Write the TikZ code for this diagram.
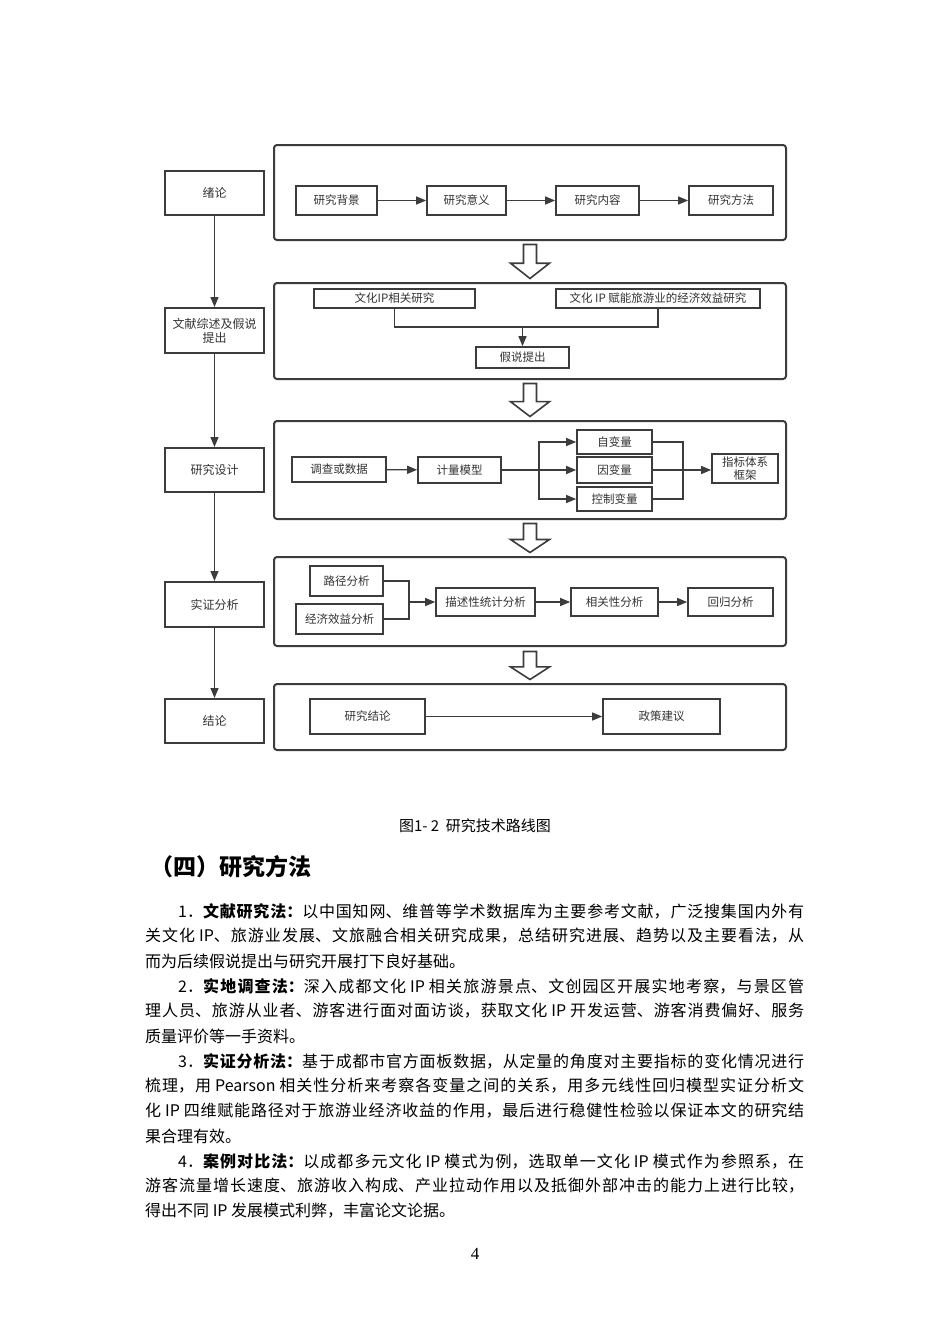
\documentclass[tikz,border=0pt]{standalone}
\usepackage{fontspec}
\setmainfont{Noto Sans CJK SC}
\newfontfamily\numfont{Liberation Serif}
\usetikzlibrary{arrows.meta,calc}
\XeTeXlinebreaklocale "zh"
\XeTeXlinebreakskip=0pt plus 5pt
\definecolor{linegray}{HTML}{3C3C3C}
\definecolor{textgray}{HTML}{333333}
\newcommand\jline[1]{\leftskip=0pt\rightskip=0pt\parfillskip=0pt\relax\noindent#1\par}
\newcommand\fatarrow[2]{%
  \path (#1) coordinate (fa-t) (#2) coordinate (fa-b) ($(#1)!0.55!(#2)$) coordinate (fa-m);
  \draw[fat] ($(fa-t)+(-6.5,0)$) -- ($(fa-t)+(6.5,0)$) -- ($(fa-m)+(6.5,0)$) -- ($(fa-m)+(19.5,0)$)
    -- (fa-b) -- ($(fa-m)+(-19.5,0)$) -- ($(fa-m)+(-6.5,0)$) -- cycle;}
\tikzset{
  outer/.style={draw=linegray,line width=2pt,rounded corners=3pt,minimum width=512pt,inner sep=0pt},
  stepbox/.style={draw=linegray,line width=1.7pt,text=textgray,font=\fontsize{11.5}{13}\selectfont,inner sep=0pt,align=center},
  sidebox/.style={stepbox,line width=2pt,minimum width=99pt,minimum height=44pt,font=\fontsize{12}{14}\selectfont},
  arr/.style={draw=linegray,line width=1.3pt,-{Triangle[length=10pt,width=8pt]}},
  link/.style={draw=linegray,line width=1.3pt},
  fat/.style={draw=linegray,line width=1.6pt,fill=white,line join=miter},
  bodyline/.style={anchor=west,inner sep=0pt,text width=659pt,align=justify,font=\fontsize{16}{20}\selectfont},
  lastline/.style={anchor=west,inner sep=0pt,font=\fontsize{16}{20}\selectfont},
}
\begin{document}
\begin{tikzpicture}[x=1pt,y=-1pt]
  \fill[white] (0,0) rectangle (950,1344);
  \useasboundingbox (0,0) rectangle (950,1344);
  % left column
  \node[sidebox] (xl) at (214.5,193) {绪论};
  \node[sidebox,minimum height=45pt] (ws) at (214.5,330.5) {文献综述及假说\\提出};
  \node[sidebox] (yj) at (214.5,470) {研究设计};
  \node[sidebox,minimum height=45pt] (sz) at (214.5,604.5) {实证分析};
  \node[sidebox] (jl) at (214.5,721) {结论};
  \draw[arr] (xl) -- (ws);
  \draw[arr] (ws) -- (yj);
  \draw[arr] (yj) -- (sz);
  \draw[arr] (sz) -- (jl);
  % outer frames
  \node[outer,minimum height=95pt] (b1) at (530,192.5) {};
  \node[outer,minimum height=96pt] (b2) at (530,331) {};
  \node[outer,minimum height=98pt] (b3) at (530,470) {};
  \node[outer,minimum height=89pt] (b4) at (530,601.5) {};
  \node[outer,minimum height=66pt] (b5) at (530,717) {};
  \fatarrow{$(b1.south)+(0,3.5)$}{$(b2.north)+(0,-3.5)$}
  \fatarrow{$(b2.south)+(0,3.5)$}{$(b3.north)+(0,-3.5)$}
  \fatarrow{$(b3.south)+(0,3.5)$}{$(b4.north)+(0,-3.5)$}
  \fatarrow{$(b4.south)+(0,4.5)$}{$(b5.north)+(0,-3.5)$}
  % frame 1
  \node[stepbox,minimum width=81pt,minimum height=29pt] (bg) at (336.5,200.5) {研究背景};
  \node[stepbox,minimum width=79pt,minimum height=29pt] (yy) at (466.5,200.5) {研究意义};
  \node[stepbox,minimum width=83pt,minimum height=29pt] (nr) at (597.5,200.5) {研究内容};
  \node[stepbox,minimum width=84pt,minimum height=29pt] (ff) at (731,200.5) {研究方法};
  \draw[arr] (bg) -- (yy);
  \draw[arr] (yy) -- (nr);
  \draw[arr] (nr) -- (ff);
  % frame 2
  \node[stepbox,minimum width=161pt,minimum height=19pt] (ipr) at (394.5,298.5) {文化IP相关研究};
  \node[stepbox,minimum width=204pt,minimum height=19pt] (ipe) at (658,298.5) {文化 IP 赋能旅游业的经济效益研究};
  \node[stepbox,minimum width=93pt,minimum height=21pt] (js) at (522.5,357.5) {假说提出};
  \coordinate (m2) at (530,327);
  \draw[link] (ipr.south) |- (m2) -| (ipe.south);
  \draw[arr] (js.north |- m2) -- (js.north);
  % frame 3
  \node[stepbox,minimum width=94pt,minimum height=25pt] (dc) at (339,469.5) {调查或数据};
  \node[stepbox,minimum width=83pt,minimum height=26pt] (jm) at (459.5,470) {计量模型};
  \node[stepbox,minimum width=75pt,minimum height=24pt] (zbl) at (614.5,442) {自变量};
  \node[stepbox,minimum width=75pt,minimum height=26pt] (ybl) at (614.5,470) {因变量};
  \node[stepbox,minimum width=75pt,minimum height=24pt] (kz) at (614.5,499) {控制变量};
  \node[stepbox,minimum width=66pt,minimum height=29pt] (zb) at (745,468.5) {指标体系\\框架};
  \draw[arr] (dc) -- (jm);
  \coordinate (br) at (539,470);
  \coordinate (mg) at (683,470);
  \draw[arr] (jm.east) -- (ybl.west);
  \draw[arr] (br) |- (zbl.west);
  \draw[arr] (br) |- (kz.west);
  \draw[link] (zbl.east) -| (mg) |- (kz.east);
  \draw[arr] (ybl.east) -- (zb.west |- ybl.east);
  % frame 4
  \node[stepbox,minimum width=73pt,minimum height=30pt] (lj) at (346.5,581) {路径分析};
  \node[stepbox,minimum width=87pt,minimum height=30pt] (jj) at (339.5,619) {经济效益分析};
  \node[stepbox,minimum width=99pt,minimum height=28pt] (ms) at (485.5,602) {描述性统计分析};
  \node[stepbox,minimum width=87pt,minimum height=28pt] (xg) at (614.5,602) {相关性分析};
  \node[stepbox,minimum width=85pt,minimum height=28pt] (hg) at (730.5,602) {回归分析};
  \coordinate (mg4) at (409,602);
  \draw[link] (lj.east) -| (mg4) |- (jj.east);
  \draw[arr] (mg4) -- (ms.west);
  \draw[arr] (ms) -- (xg);
  \draw[arr] (xg) -- (hg);
  % frame 5
  \node[stepbox,minimum width=115pt,minimum height=35pt] (yjl) at (367.5,716.5) {研究结论};
  \node[stepbox,minimum width=117pt,minimum height=35pt] (zc) at (661.5,716.5) {政策建议};
  \draw[arr] (yjl) -- (zc);
  % caption, heading and text
  \node[font=\fontsize{15}{17}\selectfont] (cap) at (475,826) {图1- 2 \ 研究技术路线图};
  \node[anchor=west,inner sep=0pt,font=\fontsize{23}{26}\selectfont\bfseries] (hd) at (150,866.5) {（四）研究方法};
  \node[bodyline] (l1) at (145,911) {\jline{\hspace*{33pt}1．\textbf{文献研究法：}以中国知网、维普等学术数据库为主要参考文献，广泛搜集国内外有}};
  \node[bodyline] (l2) at (145,936) {\jline{关文化 IP、旅游业发展、文旅融合相关研究成果，总结研究进展、趋势以及主要看法，从}};
  \node[lastline] (l3) at (145,961) {而为后续假说提出与研究开展打下良好基础。};
  \node[bodyline] (l4) at (145,986) {\jline{\hspace*{33pt}2．\textbf{实地调查法：}深入成都文化 IP 相关旅游景点、文创园区开展实地考察，与景区管}};
  \node[bodyline] (l5) at (145,1011) {\jline{理人员、旅游从业者、游客进行面对面访谈，获取文化 IP 开发运营、游客消费偏好、服务}};
  \node[lastline] (l6) at (145,1036) {质量评价等一手资料。};
  \node[bodyline] (l7) at (145,1061) {\jline{\hspace*{33pt}3．\textbf{实证分析法：}基于成都市官方面板数据，从定量的角度对主要指标的变化情况进行}};
  \node[bodyline] (l8) at (145,1086) {\jline{梳理，用 Pearson 相关性分析来考察各变量之间的关系，用多元线性回归模型实证分析文}};
  \node[bodyline] (l9) at (145,1111) {\jline{化 IP 四维赋能路径对于旅游业经济收益的作用，最后进行稳健性检验以保证本文的研究结}};
  \node[lastline] (l10) at (145,1136) {果合理有效。};
  \node[bodyline] (l11) at (145,1161) {\jline{\hspace*{33pt}4．\textbf{案例对比法：}以成都多元文化 IP 模式为例，选取单一文化 IP 模式作为参照系，在}};
  \node[bodyline] (l12) at (145,1186) {\jline{游客流量增长速度、旅游收入构成、产业拉动作用以及抵御外部冲击的能力上进行比较，}};
  \node[lastline] (l13) at (145,1211) {得出不同 IP 发展模式利弊，丰富论文论据。};
  \node[font=\numfont\fontsize{17}{19}\selectfont] (pg) at (475,1254) {4};
\end{tikzpicture}
\end{document}
